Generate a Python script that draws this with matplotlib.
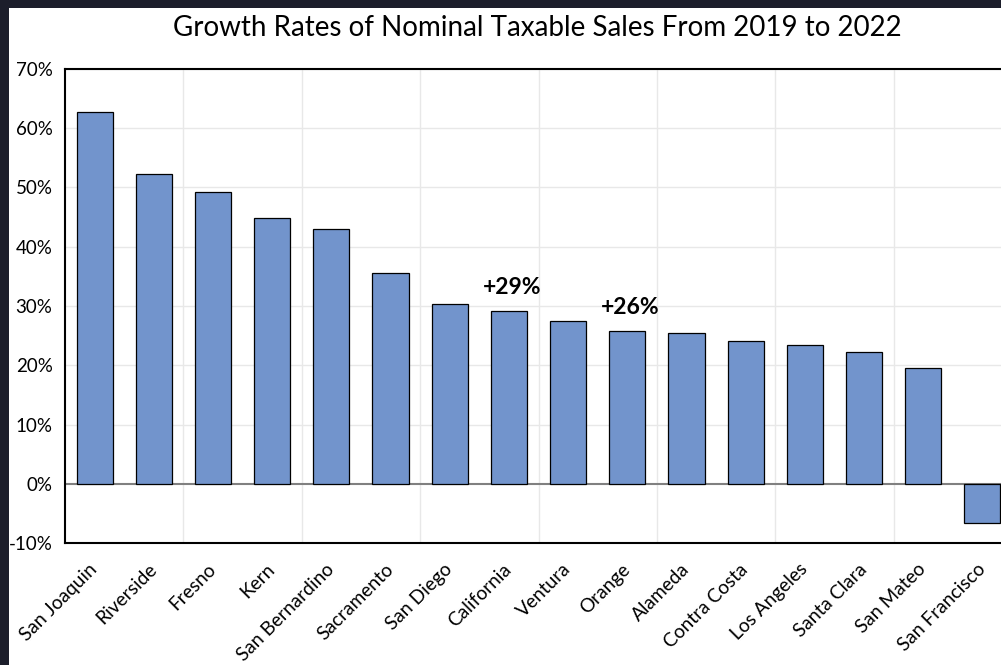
import matplotlib.pyplot as plt
import numpy as np

counties = ["San Joaquin", "Riverside", "Fresno", "Kern", "San Bernardino",
            "Sacramento", "San Diego", "California", "Ventura", "Orange",
            "Alameda", "Contra Costa", "Los Angeles", "Santa Clara",
            "San Mateo", "San Francisco"]
growth = [62.8, 52.3, 49.2, 44.8, 43.0, 35.6, 30.4, 29.2, 27.5, 25.7,
          25.4, 24.1, 23.5, 22.2, 19.6, -6.6]
callouts = {"California": "+29%", "Orange": "+26%"}

plt.rcParams['font.family'] = ['Lato', 'DejaVu Sans']

fig = plt.figure(figsize=(10.01, 6.65), dpi=100, facecolor='#1c1e2b')
# white panel inside the dark frame
panel = plt.Rectangle((9/1001, 0), 1, (665-8)/665, transform=fig.transFigure,
                      facecolor='white', edgecolor='none', zorder=-10)
fig.add_artist(panel)

# axes runs past the right edge, like the cropped original
ax = fig.add_axes([65/1001, 122/665, 947/1001, 474/665])
ax.set_zorder(5)

x = np.arange(len(counties))
ax.bar(x, growth, width=0.61, color='#7294cc', edgecolor='black', linewidth=0.9, zorder=3)

ax.set_xlim(-0.5, len(counties) - 0.5)
ax.set_ylim(-10, 70)
ax.set_yticks(np.arange(-10, 71, 10))
ax.set_yticklabels([f"{v}%" for v in range(-10, 71, 10)])
ax.set_xticks(x)
ax.set_xticklabels(counties, rotation=45, ha='right', va='center', rotation_mode='anchor')

ax.tick_params(axis='y', length=0, pad=9, labelsize=13.5)
ax.tick_params(axis='x', length=0, pad=17, labelsize=13.8)

for v in range(-10, 71, 10):
    if v != 0:
        ax.axhline(v, color='#e8e8e8', linewidth=1, zorder=1)
for gx in np.arange(1.5, len(counties) - 1, 2):
    ax.axvline(gx, color='#e8e8e8', linewidth=1, zorder=1)
ax.axhline(0, color='#808080', linewidth=1.5, zorder=2)

for s in ['left', 'bottom', 'top']:
    ax.spines[s].set_linewidth(1.5)
    ax.spines[s].set_color('black')
ax.spines['right'].set_visible(False)

for name, txt in callouts.items():
    i = counties.index(name)
    ax.text(x[i] + 0.05, growth[i] + 2.2, txt, ha='center', va='bottom',
            fontsize=16.5, fontweight='bold', zorder=4)

fig.text(537/1001, 1 - 28/665, "Growth Rates of Nominal Taxable Sales From 2019 to 2022",
         ha='center', va='center', fontsize=20)

fig.savefig("out.png", dpi=100, facecolor=fig.get_facecolor())
